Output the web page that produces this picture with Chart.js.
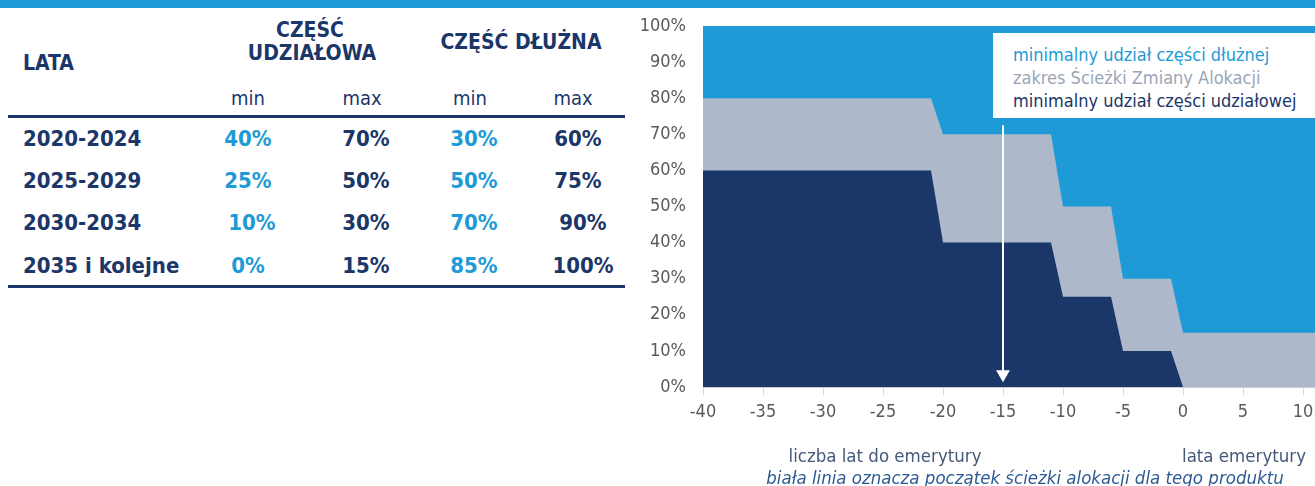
<!DOCTYPE html>
<html>
<head>
<meta charset="utf-8">
<script src="https://cdn.jsdelivr.net/npm/chart.js@4/dist/chart.umd.min.js"></script>
<style>
  html, body { margin:0; padding:0; background:#fff; width:1315px; height:486px; overflow:hidden; }
  #topbar { position:absolute; left:0; top:0; width:1315px; height:8px; background:#1e9ad6; }
  .t { position:absolute; white-space:nowrap; font-family:"DejaVu Sans Condensed","DejaVu Sans", sans-serif; color:#1b3668; line-height:1; }
  .b { font-weight:bold; font-size:22px; }
  .h { font-weight:bold; font-size:21px; }
  .c { transform:translate(-50%,-50%); }
  .l { transform:translate(0,-50%); }
  .sub { font-size:20px; }
  .rule { position:absolute; left:8px; width:617px; height:3px; background:#1b3668; }
  #chartbox { position:absolute; left:630px; top:0; width:685px; height:486px; }
  #legendbox { position:absolute; left:993px; top:33px; width:322px; height:85px; background:#fff;
     font-family:"DejaVu Sans Condensed","Liberation Sans Narrow","Liberation Sans",sans-serif; font-size:18px; line-height:23px; }
  #legendbox div { padding-left:20px; white-space:nowrap; }
  .cap { position:absolute; white-space:nowrap; font-family:"DejaVu Sans Condensed","Liberation Sans Narrow","Liberation Sans",sans-serif; font-size:18.5px; line-height:1; }
</style>
</head>
<body>
<div id="topbar"></div>
<div id="table"></div>
<div id="chartbox"><canvas id="c"></canvas></div>
<div id="legendbox">
  <div style="padding-top:10px;color:#1e9ad6">minimalny udział części dłużnej</div>
  <div style="color:#9aa6b9">zakres Ścieżki Zmiany Alokacji</div>
  <div style="color:#1b3668">minimalny udział części udziałowej</div>
</div>
<div class="cap" style="left:885px;top:456px;transform:translate(-50%,-50%);color:#44587a">liczba lat do emerytury</div>
<div class="cap" style="left:1306px;top:456px;transform:translate(-100%,-50%);color:#44587a">lata emerytury</div>
<div class="cap" style="left:1025px;top:478px;transform:translate(-50%,-50%);color:#2d5a94;font-style:italic">biała linia oznacza początek ścieżki alokacji dla tego produktu</div>
<script>
// ---- table data ----
const periods = ["2020-2024", "2025-2029", "2030-2034", "2035 i kolejne"];
const equityMin = [40, 25, 10, 0];
const equityMax = [70, 50, 30, 15];
const debtMin = [30, 50, 70, 85];
const debtMax = [60, 75, 90, 100];

// ---- chart data ----
const years =          [-40, -21, -20, -11, -10, -6, -5, -1, 0, 11];
const minEquityShare = [ 60,  60,  40,  40,  25, 25, 10, 10, 0,  0];
const maxEquityShare = [ 80,  80,  70,  70,  50, 50, 30, 30, 15, 15];
const fullShare =      [100, 100, 100, 100, 100, 100, 100, 100, 100, 100];
const xTicks = [-40, -35, -30, -25, -20, -15, -10, -5, 0, 5, 10];
const yTicks = [0, 10, 20, 30, 40, 50, 60, 70, 80, 90, 100];
const allocationStartYear = -15;
const arrowTop = 72.5;
const arrowBottom = 3.5;

// ---- build table ----
const NAVY = "#1b3668", BLUE = "#1e9ad6", GRAY = "#adb8ca";
const tb = document.getElementById("table");
function add(txt, cls, x, y, color) {
  const d = document.createElement("div");
  d.className = "t " + cls;
  d.textContent = txt;
  d.style.left = x + "px"; d.style.top = y + "px";
  if (color) d.style.color = color;
  tb.appendChild(d);
}
add("LATA", "h l", 23, 63);
add("CZĘŚĆ", "h c", 310, 30);
add("UDZIAŁOWA", "h c", 312, 53);
add("CZĘŚĆ DŁUŻNA", "h c", 521, 42);
["min","max","min","max"].forEach((s,i)=> add(s, "sub c", [248,362,470,573][i], 98));
const r1 = document.createElement("div"); r1.className="rule"; r1.style.top="115px"; tb.appendChild(r1);
const r2 = document.createElement("div"); r2.className="rule"; r2.style.top="285px"; tb.appendChild(r2);
const rowY = [139, 181, 223, 266];
const colX = [248, 366, 474, 578];
periods.forEach((p, i) => {
  add(p, "b l", 23, rowY[i]);
  add(equityMin[i] + "%", "b c", colX[0] + (equityMin[i] === 10 ? 4 : 0), rowY[i], BLUE);
  add(equityMax[i] + "%", "b c", colX[1], rowY[i], NAVY);
  add(debtMin[i] + "%", "b c", colX[2], rowY[i], BLUE);
  add(debtMax[i] + "%", "b c", colX[3] + (debtMax[i] >= 90 ? 5 : 0), rowY[i], NAVY);
});

// ---- chart ----
const pts = arr => years.map((x, i) => ({ x, y: arr[i] }));
const tickFont = { family: "'DejaVu Sans Condensed','Liberation Sans Narrow','Liberation Sans',sans-serif", size: 18 };
new Chart(document.getElementById("c"), {
  type: "line",
  data: {
    datasets: [
      { data: [{x: allocationStartYear, y: arrowTop}, {x: allocationStartYear, y: arrowBottom}],
        borderColor: "#ffffff", borderWidth: 2, fill: false, order: 0,
        pointRadius: [0, 8], pointStyle: "triangle", rotation: 180,
        pointBackgroundColor: "#ffffff", pointBorderWidth: 0 },
      { data: pts(minEquityShare), backgroundColor: NAVY, borderColor: "rgba(0,0,0,0)", borderWidth: 0, pointRadius: 0, fill: "origin", order: 1 },
      { data: pts(maxEquityShare), backgroundColor: GRAY, borderColor: "rgba(0,0,0,0)", borderWidth: 0, pointRadius: 0, fill: "origin", order: 2 },
      { data: pts(fullShare), backgroundColor: BLUE, borderColor: "rgba(0,0,0,0)", borderWidth: 0, pointRadius: 0, fill: "origin", order: 3 }
    ]
  },
  options: {
    responsive: true, maintainAspectRatio: false, animation: false,
    layout: { autoPadding: false, padding: { top: 26, right: 0, left: 0, bottom: 0 } },
    elements: { line: { tension: 0 } },
    plugins: { legend: { display: false }, tooltip: { enabled: false } },
    scales: {
      x: {
        type: "linear", min: -40, max: 11,
        afterFit: s => { s.height = 99; s.paddingRight = 0; s.paddingLeft = 0; },
        afterBuildTicks: s => { s.ticks = xTicks.map(v => ({ value: v })); },
        ticks: { color: "#595959", font: tickFont, padding: 7, maxRotation: 0, autoSkip: false },
        grid: { drawOnChartArea: false, drawTicks: true, tickLength: 8, color: "#d9d9d9" },
        border: { display: true, color: "#c9cfd9", width: 1 }
      },
      y: {
        min: 0, max: 100,
        afterFit: s => { s.width = 73; s.paddingTop = 0; s.paddingBottom = 0; },
        afterBuildTicks: s => { s.ticks = yTicks.map(v => ({ value: v })); },
        ticks: { color: "#595959", font: tickFont, padding: 17, callback: v => v + "%" },
        grid: { drawOnChartArea: false, drawTicks: false },
        border: { display: true, color: "#d9d9d9" }
      }
    }
  }
});
</script>
</body>
</html>
